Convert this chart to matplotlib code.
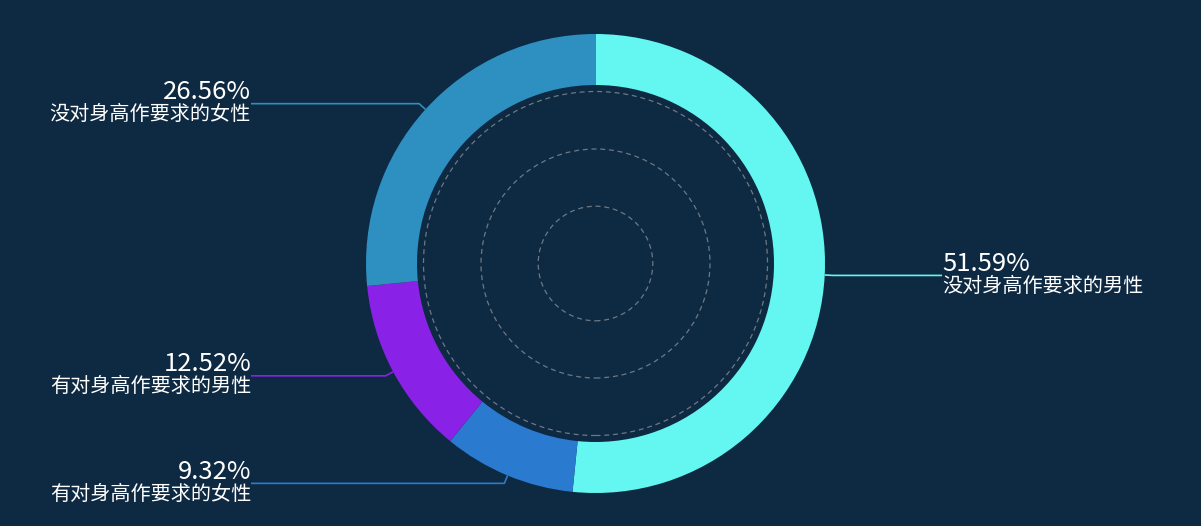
import matplotlib.pyplot as plt
import numpy as np
from matplotlib.patches import Circle

plt.rcParams['font.family'] = ['Noto Sans CJK SC', 'DejaVu Sans']

# chart data (clockwise from 12 o'clock)
names = ['没对身高作要求的男性', '有对身高作要求的女性', '有对身高作要求的男性', '没对身高作要求的女性']
values = [51.59, 9.32, 12.52, 26.56]
colors = ['#64f7f1', '#2a7bd0', '#8a21e7', '#2e8fc1']

bg = '#0e2942'
W, H = 1201, 526
cx, cy = 595.5, H - 263.5
r_out, r_in = 229.5, 178.5
grid_r = [57.3, 114.5, 172.0]
left_edge, right_edge = 251, 942
leader_len = 8.5

fig = plt.figure(figsize=(W / 100, H / 100), dpi=100, facecolor=bg)
ax = fig.add_axes([0, 0, 1, 1])
ax.set_facecolor(bg)

wedges, _ = ax.pie(values, colors=colors, startangle=90, counterclock=False,
                   center=(cx, cy), radius=r_out, normalize=True,
                   wedgeprops=dict(width=r_out - r_in, linewidth=0))
ax.set_xlim(0, W)
ax.set_ylim(0, H)
ax.set_aspect('equal')
ax.axis('off')

# dashed guide circles inside the ring
for r in grid_r:
    ax.add_patch(Circle((cx, cy), r, fill=False, edgecolor='#8c939b', alpha=0.75,
                        linewidth=0.9, linestyle=(0, (4, 3))))

# leader lines and labels
for w, name, val, col in zip(wedges, names, values, colors):
    mid = np.deg2rad((w.theta1 + w.theta2) / 2)
    dx, dy = np.cos(mid), np.sin(mid)
    x0, y0 = cx + r_out * dx, cy + r_out * dy
    x1, y1 = cx + (r_out + leader_len) * dx, cy + (r_out + leader_len) * dy
    if dx >= 0:
        x2, ha = right_edge, 'left'
    else:
        x2, ha = left_edge, 'right'
    ax.plot([x0, x1, x2], [y0, y1, y1], color=col, linewidth=1.2,
            solid_capstyle='butt')
    ax.text(x2, y1 + 11.5, f'{val:.2f}%', color='white', fontsize=18.5,
            ha=ha, va='center')
    ax.text(x2, y1 - 11, name, color='white', fontsize=14.5,
            ha=ha, va='center')

fig.savefig('out.png', dpi=100, facecolor=bg)
